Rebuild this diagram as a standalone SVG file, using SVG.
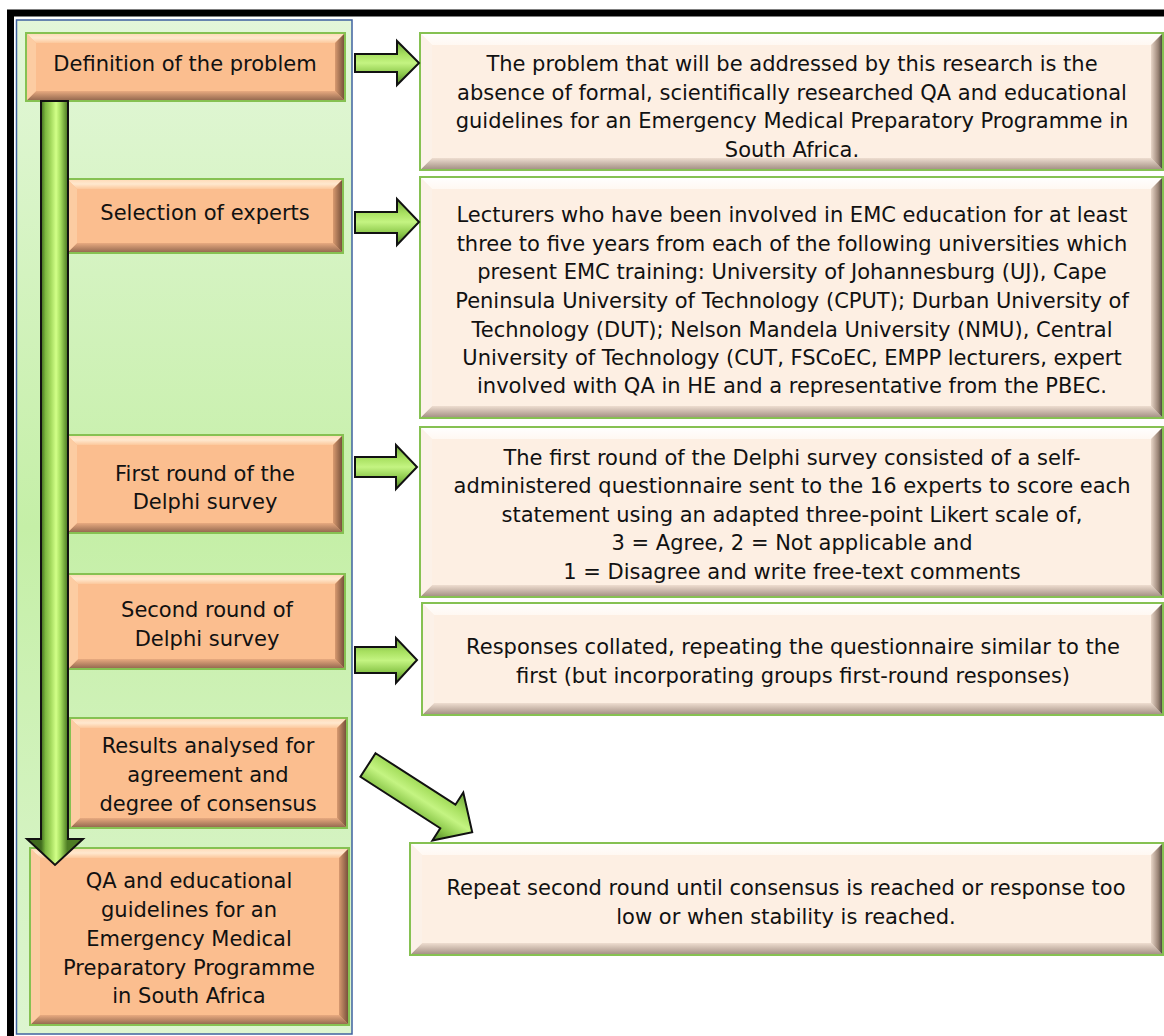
<svg xmlns="http://www.w3.org/2000/svg" width="1164" height="1036" viewBox="0 0 1164 1036">
<defs>
<style>
.t{font-family:"DejaVu Sans","Liberation Sans",sans-serif;font-size:21px;fill:#111;text-anchor:middle}
.ob{fill:#FBBE8F}
.ot{fill:url(#oTop)}
.obm{fill:url(#oBot)}
.ol{fill:#FCCCA2}
.or{fill:url(#oRight)}
.rb{fill:#FDEFE3}
.rt{fill:url(#rTop)}
.rbm{fill:url(#rBot)}
.rl{fill:#FCF1E8}
.rr{fill:url(#rRight)}
.bd{fill:none;stroke:#86C152;stroke-width:2}
.ar{fill:url(#aGrad);stroke:#111;stroke-width:2;stroke-linejoin:miter}
</style>
<linearGradient id="bg" x1="0" y1="0" x2="0" y2="1">
<stop offset="0" stop-color="#E3F7D9"/>
<stop offset="0.5" stop-color="#C5EFA7"/>
<stop offset="1" stop-color="#DDF5D0"/>
</linearGradient>
<linearGradient id="oTop" x1="0" y1="0" x2="0" y2="1">
<stop offset="0" stop-color="#FFD9B5"/>
<stop offset="0.5" stop-color="#FFE8CE"/>
<stop offset="1" stop-color="#FCC89C"/>
</linearGradient>
<linearGradient id="oBot" x1="0" y1="0" x2="0" y2="1">
<stop offset="0" stop-color="#E8AA80"/>
<stop offset="1" stop-color="#8E644C"/>
</linearGradient>
<linearGradient id="oRight" x1="0" y1="0" x2="1" y2="0">
<stop offset="0" stop-color="#D89A70"/>
<stop offset="1" stop-color="#6E4A36"/>
</linearGradient>
<linearGradient id="rTop" x1="0" y1="0" x2="0" y2="1">
<stop offset="0" stop-color="#FFFFFF"/>
<stop offset="1" stop-color="#FFF8F2"/>
</linearGradient>
<linearGradient id="rBot" x1="0" y1="0" x2="0" y2="1">
<stop offset="0" stop-color="#EEDDD0"/>
<stop offset="1" stop-color="#A08C80"/>
</linearGradient>
<linearGradient id="rRight" x1="0" y1="0" x2="1" y2="0">
<stop offset="0" stop-color="#E8D6C8"/>
<stop offset="0.6" stop-color="#9A8476"/>
<stop offset="1" stop-color="#3E3A30"/>
</linearGradient>
<linearGradient id="aGrad" x1="0" y1="0" x2="0" y2="1">
<stop offset="0" stop-color="#6BA53A"/>
<stop offset="0.3" stop-color="#A8E060"/>
<stop offset="0.5" stop-color="#C4F482"/>
<stop offset="0.75" stop-color="#8CC84B"/>
<stop offset="1" stop-color="#4E8024"/>
</linearGradient>
<linearGradient id="vGrad" gradientUnits="userSpaceOnUse" x1="27" y1="0" x2="83" y2="0">
<stop offset="0.25" stop-color="#3F6A1E"/>
<stop offset="0.33" stop-color="#7DB840"/>
<stop offset="0.42" stop-color="#A2D85C"/>
<stop offset="0.52" stop-color="#D2FF88"/>
<stop offset="0.6" stop-color="#A4DC5E"/>
<stop offset="0.72" stop-color="#4E7D24"/>
</linearGradient>
</defs>

<rect width="1164" height="1036" fill="#FFFFFF"/>
<rect x="10.5" y="13" width="1200" height="1100" fill="none" stroke="#000" stroke-width="7"/>
<rect x="16.5" y="20" width="335.5" height="1014" fill="url(#bg)" stroke="#3F62A0" stroke-width="1.5"/>

<g id="node-definition">
<rect class="ob" x="26" y="33" width="319" height="68"/>
<polygon class="ot" points="26,33 345,33 335,43 36,43"/>
<polygon class="obm" points="26,101 345,101 335,91 36,91"/>
<polygon class="ol" points="26,33 36,43 36,91 26,101"/>
<polygon class="or" points="345,33 335,43 335,91 345,101"/>
<rect class="bd" x="26" y="33" width="319" height="68"/>
<text class="t" x="185" y="71">Definition of the problem</text>
</g>

<g id="node-selection">
<rect class="ob" x="67" y="179" width="276" height="74"/>
<polygon class="ot" points="67,179 343,179 333,189 77,189"/>
<polygon class="obm" points="67,253 343,253 333,243 77,243"/>
<polygon class="ol" points="67,179 77,189 77,243 67,253"/>
<polygon class="or" points="343,179 333,189 333,243 343,253"/>
<rect class="bd" x="67" y="179" width="276" height="74"/>
<text class="t" x="205" y="220">Selection of experts</text>
</g>

<g id="node-first-round">
<rect class="ob" x="67" y="435" width="276" height="98"/>
<polygon class="ot" points="67,435 343,435 333,445 77,445"/>
<polygon class="obm" points="67,533 343,533 333,523 77,523"/>
<polygon class="ol" points="67,435 77,445 77,523 67,533"/>
<polygon class="or" points="343,435 333,445 333,523 343,533"/>
<rect class="bd" x="67" y="435" width="276" height="98"/>
<text class="t" x="205" y="481">First round of the</text>
<text class="t" x="205" y="509">Delphi survey</text>
</g>

<g id="node-second-round">
<rect class="ob" x="68" y="574" width="277" height="95"/>
<polygon class="ot" points="68,574 345,574 335,584 78,584"/>
<polygon class="obm" points="68,669 345,669 335,659 78,659"/>
<polygon class="ol" points="68,574 78,584 78,659 68,669"/>
<polygon class="or" points="345,574 335,584 335,659 345,669"/>
<rect class="bd" x="68" y="574" width="277" height="95"/>
<text class="t" x="207" y="617">Second round of</text>
<text class="t" x="207" y="646">Delphi survey</text>
</g>

<g id="node-results">
<rect class="ob" x="70" y="718" width="277" height="110"/>
<polygon class="ot" points="70,718 347,718 337,728 80,728"/>
<polygon class="obm" points="70,828 347,828 337,818 80,818"/>
<polygon class="ol" points="70,718 80,728 80,818 70,828"/>
<polygon class="or" points="347,718 337,728 337,818 347,828"/>
<rect class="bd" x="70" y="718" width="277" height="110"/>
<text class="t" x="208" y="753">Results analysed for</text>
<text class="t" x="208" y="782">agreement and</text>
<text class="t" x="208" y="811">degree of consensus</text>
</g>

<g id="node-qa">
<rect class="ob" x="30" y="848" width="319" height="177"/>
<polygon class="ot" points="30,848 349,848 339,858 40,858"/>
<polygon class="obm" points="30,1025 349,1025 339,1015 40,1015"/>
<polygon class="ol" points="30,848 40,858 40,1015 30,1025"/>
<polygon class="or" points="349,848 339,858 339,1015 349,1025"/>
<rect class="bd" x="30" y="848" width="319" height="177"/>
<text class="t" x="189" y="888">QA and educational</text>
<text class="t" x="189" y="917">guidelines for an</text>
<text class="t" x="189" y="946">Emergency Medical</text>
<text class="t" x="189" y="975">Preparatory Programme</text>
<text class="t" x="189" y="1003">in South Africa</text>
</g>

<g id="node-problem-desc">
<rect class="rb" x="420" y="33" width="743" height="137"/>
<polygon class="rt" points="420,33 1163,33 1151,45 432,45"/>
<polygon class="rbm" points="420,170 1163,170 1151,158 432,158"/>
<polygon class="rl" points="420,33 432,45 432,158 420,170"/>
<polygon class="rr" points="1163,33 1151,45 1151,158 1163,170"/>
<rect class="bd" x="420" y="33" width="743" height="137"/>
<text class="t" x="792" y="71">The problem that will be addressed by this research is the</text>
<text class="t" x="792" y="100">absence of formal, scientifically researched QA and educational</text>
<text class="t" x="792" y="128">guidelines for an Emergency Medical Preparatory Programme in</text>
<text class="t" x="792" y="157">South Africa.</text>
</g>

<g id="node-experts-desc">
<rect class="rb" x="420" y="177" width="743" height="241"/>
<polygon class="rt" points="420,177 1163,177 1151,189 432,189"/>
<polygon class="rbm" points="420,418 1163,418 1151,406 432,406"/>
<polygon class="rl" points="420,177 432,189 432,406 420,418"/>
<polygon class="rr" points="1163,177 1151,189 1151,406 1163,418"/>
<rect class="bd" x="420" y="177" width="743" height="241"/>
<text class="t" x="792" y="222">Lecturers who have been involved in EMC education for at least</text>
<text class="t" x="792" y="251">three to five years from each of the following universities which</text>
<text class="t" x="792" y="279">present EMC training: University of Johannesburg (UJ), Cape</text>
<text class="t" x="792" y="308">Peninsula University of Technology (CPUT); Durban University of</text>
<text class="t" x="792" y="337">Technology (DUT); Nelson Mandela University (NMU), Central</text>
<text class="t" x="792" y="365">University of Technology (CUT, FSCoEC, EMPP lecturers, expert</text>
<text class="t" x="792" y="393">involved with QA in HE and a representative from the PBEC.</text>
</g>

<g id="node-first-round-desc">
<rect class="rb" x="420" y="427" width="743" height="170"/>
<polygon class="rt" points="420,427 1163,427 1151,439 432,439"/>
<polygon class="rbm" points="420,597 1163,597 1151,585 432,585"/>
<polygon class="rl" points="420,427 432,439 432,585 420,597"/>
<polygon class="rr" points="1163,427 1151,439 1151,585 1163,597"/>
<rect class="bd" x="420" y="427" width="743" height="170"/>
<text class="t" x="792" y="465">The first round of the Delphi survey consisted of a self-</text>
<text class="t" x="792" y="493">administered questionnaire sent to the 16 experts to score each</text>
<text class="t" x="792" y="522">statement using an adapted three-point Likert scale of,</text>
<text class="t" x="792" y="550">3 = Agree, 2 = Not applicable and</text>
<text class="t" x="792" y="579">1 = Disagree and write free-text comments</text>
</g>

<g id="node-second-round-desc">
<rect class="rb" x="422" y="603" width="741" height="112"/>
<polygon class="rt" points="422,603 1163,603 1151,615 434,615"/>
<polygon class="rbm" points="422,715 1163,715 1151,703 434,703"/>
<polygon class="rl" points="422,603 434,615 434,703 422,715"/>
<polygon class="rr" points="1163,603 1151,615 1151,703 1163,715"/>
<rect class="bd" x="422" y="603" width="741" height="112"/>
<text class="t" x="793" y="654">Responses collated, repeating the questionnaire similar to the</text>
<text class="t" x="793" y="683">first (but incorporating groups first-round responses)</text>
</g>

<g id="node-repeat">
<rect class="rb" x="410" y="843" width="753" height="112"/>
<polygon class="rt" points="410,843 1163,843 1151,855 422,855"/>
<polygon class="rbm" points="410,955 1163,955 1151,943 422,943"/>
<polygon class="rl" points="410,843 422,855 422,943 410,955"/>
<polygon class="rr" points="1163,843 1151,855 1151,943 1163,955"/>
<rect class="bd" x="410" y="843" width="753" height="112"/>
<text class="t" x="786" y="895">Repeat second round until consensus is reached or response too</text>
<text class="t" x="786" y="924">low or when stability is reached.</text>
</g>

<g id="connectors">
<polygon points="41,101 68,101 68,839 83,839 55,865 27,839 41,839" fill="url(#vGrad)" stroke="#111" stroke-width="2"/>
<polygon class="ar" points="355,54 397,54 397,41 419,63 397,85 397,72 355,72"/>
<polygon class="ar" points="355,212 397,212 397,199 419,222 397,245 397,233 355,233"/>
<polygon class="ar" points="355,457 396,457 396,445 417,467 396,489 396,477 355,477"/>
<polygon class="ar" points="355,647 396,647 396,638 417,660 396,683 396,673 355,673"/>
<polygon class="ar" transform="translate(368,765) rotate(32.8)" points="0,-14 95,-14 95,-28.5 124,0 95,28.5 95,14 0,14"/>
</g>
</svg>
